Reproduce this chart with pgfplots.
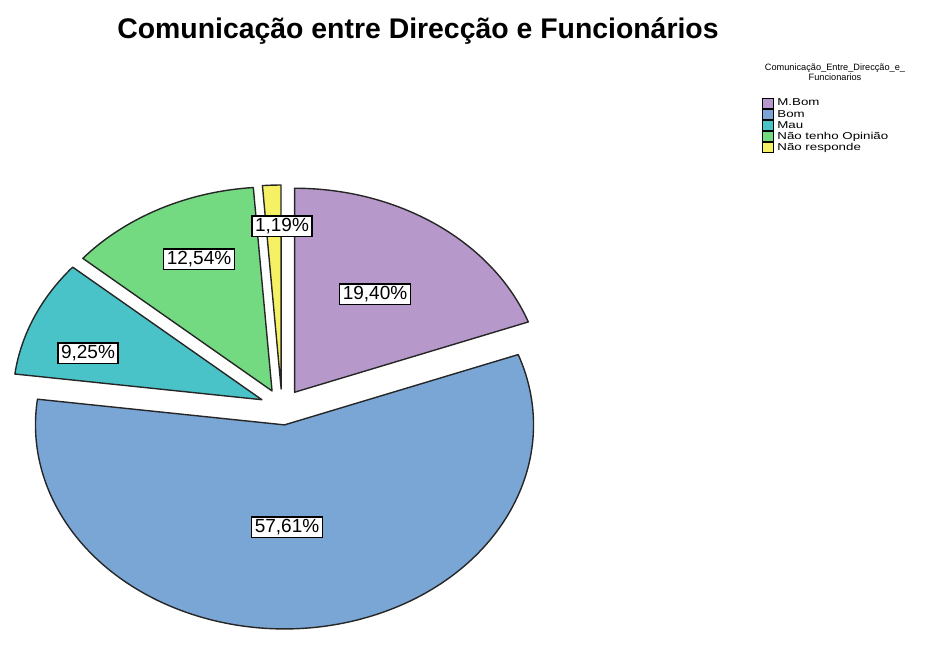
\documentclass[border=0pt]{standalone}
\usepackage{fontspec}
\setmainfont{Liberation Sans}
\usepackage{pgfplots}
\usepackage{pgfplotstable}
\pgfplotsset{compat=1.18}
\definecolor{cMB}{RGB}{183,152,202}
\definecolor{cB}{RGB}{122,166,214}
\definecolor{cM}{RGB}{73,195,200}
\definecolor{cN}{RGB}{116,218,130}
\definecolor{cR}{RGB}{245,240,100}

% pct = share of answers; col = slice colour; lx, ly = label position (px, y up)
\pgfplotstableread{
pct   col  lx  ly
19.40 cMB  375 338
57.61 cB   287 105
9.25  cM   88  279
12.54 cN   199 373
1.19  cR   282 406
}\piedata

\pgfplotsset{sq/.style={legend image code/.code={\draw[draw=black, line width=0.5pt, fill=#1] (0pt,-2.5pt) rectangle (5.5pt,2.5pt);}}}

\begin{document}
\begin{tikzpicture}
\begin{axis}[
  scale only axis, width=466.5pt, height=316pt,
  xmin=0, xmax=933, ymin=0, ymax=632,
  hide axis, clip=false,
  legend style={at={(axis cs:762,534.5)}, anchor=north west, draw=none, fill=none,
    inner sep=0pt, font=\fontsize{5}{5}\selectfont, row sep=0pt,
    nodes={inner ysep=0pt, inner xsep=1.5pt, text height=4.05pt, text depth=1.5pt}},
  legend cell align=left,
]
\path (rel axis cs:0,0) rectangle (rel axis cs:1,1);
\addlegendimage{sq=cMB}\addlegendentry{\scalebox{1.33}[1]{M.Bom}}
\addlegendimage{sq=cB}\addlegendentry{\scalebox{1.33}[1]{Bom}}
\addlegendimage{sq=cM}\addlegendentry{\scalebox{1.33}[1]{Mau}}
\addlegendimage{sq=cN}\addlegendentry{\scalebox{1.33}[1]{Não tenho Opinião}}
\addlegendimage{sq=cR}\addlegendentry{\scalebox{1.33}[1]{Não responde}}

\pgfplotsextra{
  \def\cum{0}
  \pgfplotsforeachungrouped \ii in {0,...,4}{
    \pgfplotstablegetelem{\ii}{pct}\of\piedata \let\pv\pgfplotsretval
    \pgfplotstablegetelem{\ii}{col}\of\piedata \let\slicecol\pgfplotsretval
    \pgfmathsetmacro\sa{90-3.6*\cum}
    \pgfmathsetmacro\ea{\sa-3.6*\pv}
    \pgfmathsetmacro\ma{(\sa+\ea)/2}
    \pgfmathsetmacro\apx{282+22*cos(\ma)}
    \pgfmathsetmacro\apy{225+18*sin(\ma)}
    \pgfmathsetmacro\bx{\apx+249*cos(\sa)}
    \pgfmathsetmacro\by{\apy+204*sin(\sa)}
    \pgfmathsetmacro\cum{\cum+\pv}
    \fill[fill=\slicecol, draw=black!85, line width=0.7pt, line join=round]
      (axis cs:\apx,\apy) -- (axis cs:\bx,\by)
      arc[start angle=\sa, end angle=\ea, x radius=124.5pt, y radius=102pt] -- cycle;
  }
  \pgfplotsforeachungrouped \ii in {0,...,4}{
    \pgfplotstablegetelem{\ii}{pct}\of\piedata \let\pv\pgfplotsretval
    \pgfplotstablegetelem{\ii}{lx}\of\piedata \let\labx\pgfplotsretval
    \pgfplotstablegetelem{\ii}{ly}\of\piedata \let\laby\pgfplotsretval
    \node[draw=black, fill=white, line width=0.6pt, inner xsep=1.5pt, inner ysep=0.8pt,
      text height=6.9pt, text depth=1.6pt, font=\fontsize{9.5}{10}\selectfont]
      at (axis cs:\labx,\laby) {\pgfmathprintnumber[fixed,fixed zerofill,precision=2,use comma,assume math mode=true]{\pv}\%};
  }
}

\node[font=\fontsize{14.2}{17}\selectfont\bfseries] at (axis cs:418,601)
  {Comunicação entre Direcção e Funcionários};
\node[font=\fontsize{4.6}{5}\selectfont, align=center] at (axis cs:835,560)
  {Comunicação\_Entre\_Direcção\_e\_\\Funcionarios};
\end{axis}
\end{tikzpicture}
\end{document}
